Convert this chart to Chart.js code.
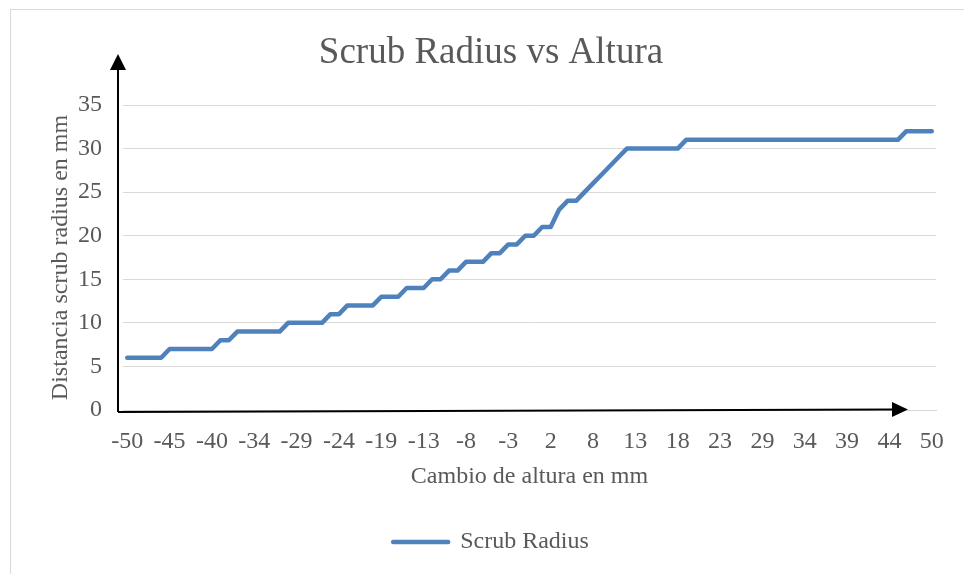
<!DOCTYPE html>
<html lang="es">
<head>
<meta charset="utf-8">
<title>Scrub Radius vs Altura</title>
<script src="https://cdn.jsdelivr.net/npm/chart.js@4.4.1/dist/chart.umd.min.js"></script>
<style>
    html, body { margin: 0; padding: 0; background: #ffffff; overflow: hidden; }
    #scrubChart { display: block; }
</style>
</head>
<body>
<canvas id="scrubChart" width="964" height="574"></canvas>
<script>
// Cambio de altura (mm), one entry per measured point
const alturaLabels = [
    "-50", "-49", "-48", "-47", "-46",
    "-45", "-44", "-43", "-42", "-41",
    "-40", "-38", "-37", "-36", "-35",
    "-34", "-33", "-32", "-31", "-30",
    "-29", "-28", "-27", "-26", "-25",
    "-24", "-23", "-22", "-21", "-20",
    "-19", "-17", "-16", "-15", "-14",
    "-13", "-12", "-11", "-10", "-9",
    "-8", "-7", "-6", "-5", "-4",
    "-3", "-2", "-1", "0", "1",
    "2", "4", "5", "6", "7",
    "8", "9", "10", "11", "12",
    "13", "14", "15", "16", "17",
    "18", "19", "20", "21", "22",
    "23", "25", "26", "27", "28",
    "29", "30", "31", "32", "33",
    "34", "35", "36", "37", "38",
    "39", "40", "41", "42", "43",
    "44", "46", "47", "48", "49",
    "50"
];

// Distancia scrub radius (mm)
const scrubRadius = [
    6, 6, 6, 6, 6,
    7, 7, 7, 7, 7, 7,
    8, 8,
    9, 9, 9, 9, 9, 9,
    10, 10, 10, 10, 10,
    11, 11,
    12, 12, 12, 12,
    13, 13, 13,
    14, 14, 14,
    15, 15,
    16, 16,
    17, 17, 17,
    18, 18,
    19, 19,
    20, 20,
    21, 21,
    23,
    24, 24,
    25, 26, 27, 28, 29,
    30, 30, 30, 30, 30, 30, 30,
    31, 31, 31, 31, 31, 31, 31, 31, 31, 31, 31, 31, 31,
    31, 31, 31, 31, 31, 31, 31, 31, 31, 31, 31, 31, 31,
    32, 32, 32, 32
];

const labelStep = 5;          // only every 5th altura is written under the axis
const yTicks = [0, 5, 10, 15, 20, 25, 30, 35];

const serif = "'Liberation Serif', 'Times New Roman', serif";
const textGrey = "#595959";
const gridGrey = "#d9d9d9";
const lineBlue = "#4f81bd";

// frame around the whole chart + white background
const chartFrame = {
    id: "chartFrame",
    beforeDraw(chart) {
        const ctx = chart.ctx;
        ctx.save();
        ctx.fillStyle = "#ffffff";
        ctx.fillRect(0, 0, chart.width, chart.height);
        ctx.strokeStyle = gridGrey;
        ctx.lineWidth = 1;
        ctx.strokeRect(10.5, 9.5, chart.width + 20, chart.height + 20);
        ctx.restore();
    }
};

// black hand-drawn style axis arrows
function drawArrow(ctx, x0, y0, x1, y1, headLen, headHalf) {
    const ang = Math.atan2(y1 - y0, x1 - x0);
    const bx = x1 - Math.cos(ang) * headLen;
    const by = y1 - Math.sin(ang) * headLen;
    ctx.beginPath();
    ctx.moveTo(x0, y0);
    ctx.lineTo(bx, by);
    ctx.stroke();
    ctx.beginPath();
    ctx.moveTo(x1, y1);
    ctx.lineTo(bx + Math.sin(ang) * headHalf, by - Math.cos(ang) * headHalf);
    ctx.lineTo(bx - Math.sin(ang) * headHalf, by + Math.cos(ang) * headHalf);
    ctx.closePath();
    ctx.fill();
}

const axisArrows = {
    id: "axisArrows",
    afterDraw(chart) {
        const {ctx, chartArea} = chart;
        const ox = chartArea.left - 5;
        const oy = chartArea.bottom + 2;
        ctx.save();
        ctx.strokeStyle = "#000000";
        ctx.fillStyle = "#000000";
        ctx.lineWidth = 2;
        drawArrow(ctx, ox, oy, ox, chartArea.top - 51, 16, 8);
        drawArrow(ctx, ox, oy, chartArea.right - 28, chartArea.bottom - 0.5, 16, 7.5);
        ctx.restore();
    }
};

new Chart(document.getElementById("scrubChart"), {
    type: "line",
    data: {
        labels: alturaLabels,
        datasets: [{
            label: "Scrub Radius",
            data: scrubRadius,
            borderColor: lineBlue,
            backgroundColor: lineBlue,
            borderWidth: 4.5,
            borderCapStyle: "round",
            borderJoinStyle: "round",
            pointRadius: 0,
            pointHoverRadius: 0,
            tension: 0,
            fill: false
        }]
    },
    options: {
        responsive: false,
        animation: false,
        devicePixelRatio: 1,
        layout: {
            padding: { left: 46, right: 28, top: 0, bottom: 10 }
        },
        plugins: {
            title: {
                display: true,
                text: "Scrub Radius vs Altura",
                color: textGrey,
                font: { family: serif, size: 37, weight: "normal" },
                padding: { top: 31, bottom: 29.6 }
            },
            legend: {
                display: true,
                position: "bottom",
                labels: {
                    color: textGrey,
                    font: { family: serif, size: 24 },
                    boxWidth: 55,
                    boxHeight: 0,
                    padding: 10
                }
            },
            tooltip: { enabled: false }
        },
        scales: {
            x: {
                type: "category",
                offset: true,
                grid: { display: false, drawTicks: false },
                border: { display: true, color: gridGrey, width: 1 },
                ticks: {
                    autoSkip: false,
                    maxRotation: 0,
                    minRotation: 0,
                    padding: 17,
                    color: textGrey,
                    font: { family: serif, size: 24 },
                    callback: function (value, index) {
                        return index % labelStep === 0 ? this.getLabelForValue(value) : "";
                    }
                },
                title: {
                    display: true,
                    text: "Cambio de altura en mm",
                    color: textGrey,
                    font: { family: serif, size: 24 },
                    padding: { top: 0, bottom: 29 }
                },
                afterFit(scale) { scale.height = 110; }
            },
            y: {
                min: 0,
                max: 35,
                grid: { color: gridGrey, lineWidth: 1, drawTicks: false },
                border: { display: false },
                afterBuildTicks(scale) {
                    scale.ticks = yTicks.map(v => ({ value: v }));
                },
                ticks: {
                    padding: 21,
                    color: textGrey,
                    font: { family: serif, size: 24 }
                },
                title: {
                    display: true,
                    text: "Distancia scrub radius en mm",
                    color: textGrey,
                    font: { family: serif, size: 24 },
                    padding: { top: 0, bottom: 0 }
                },
                afterFit(scale) { scale.width = 77; }
            }
        }
    },
    plugins: [chartFrame, axisArrows]
});
</script>
</body>
</html>
